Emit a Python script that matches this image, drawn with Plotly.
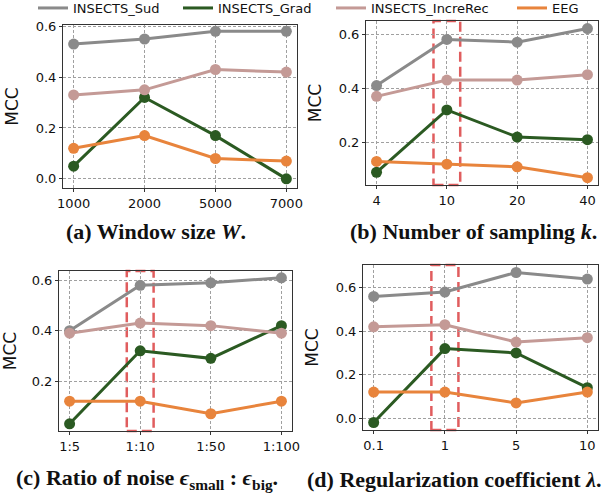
import plotly.graph_objects as go

# panel (a) window size W
w_ticks = ['1000', '2000', '5000', '7000']
w_sud = [0.53, 0.55, 0.58, 0.58]
w_grad = [0.05, 0.32, 0.17, 0.00]
w_incre = [0.33, 0.35, 0.43, 0.42]
w_eeg = [0.12, 0.17, 0.08, 0.07]

# panel (b) number of sampling k
k_ticks = ['4', '10', '20', '40']
k_sud = [0.41, 0.58, 0.57, 0.62]
k_grad = [0.09, 0.32, 0.22, 0.21]
k_incre = [0.37, 0.43, 0.43, 0.45]
k_eeg = [0.13, 0.12, 0.11, 0.07]

# panel (c) noise ratio
r_ticks = ['1:5', '1:10', '1:50', '1:100']
r_sud = [0.40, 0.58, 0.59, 0.61]
r_grad = [0.03, 0.32, 0.29, 0.42]
r_incre = [0.39, 0.43, 0.42, 0.39]
r_eeg = [0.12, 0.12, 0.07, 0.12]

# panel (d) regularization coefficient
l_ticks = ['0.1', '1', '5', '10']
l_sud = [0.56, 0.58, 0.67, 0.64]
l_grad = [-0.02, 0.32, 0.30, 0.14]
l_incre = [0.42, 0.43, 0.35, 0.37]
l_eeg = [0.12, 0.12, 0.07, 0.12]

series_names = ['INSECTS_Sud', 'INSECTS_Grad', 'INSECTS_IncreRec', 'EEG']
colors = ['#8a8a8a', '#2b5a22', '#c49a96', '#e8843c']

# which tick gets the red box in each panel (None = no box)
highlight = [None, '10', '1:10', '1']

W, H = 602, 497


def px_x(x):
    return x / W


def px_y(y):
    return 1 - y / H


panels = [
    (w_ticks, [w_sud, w_grad, w_incre, w_eeg], [-0.036, 0.605]),
    (k_ticks, [k_sud, k_grad, k_incre, k_eeg], [0.043, 0.648]),
    (r_ticks, [r_sud, r_grad, r_incre, r_eeg], [0.0015, 0.637]),
    (l_ticks, [l_sud, l_grad, l_incre, l_eeg], [-0.0545, 0.7045]),
]

# plot boxes in pixels: left, right, top, bottom
boxes = [
    (63, 297, 25, 188),
    (366, 598, 21, 185),
    (59, 292, 271, 431),
    (363, 598, 265, 430),
]

captions = [
    ('<b>(a) Window size <i>W</i>.</b>', 156, 232),
    ('<b>(b) Number of sampling <i>k</i>.</b>', 473, 232),
    ('<b>(c) Ratio of noise <i>ϵ</i><sub>small</sub> : <i>ϵ</i><sub>big</sub>.</b>', 147, 479),
    ('<b>(d) Regularization coefficient <i>λ</i>.</b>', 454, 479),
]

# left pixel of each legend line in the reference
legend_px = [40, 185, 338, 519]

fig = go.Figure()
shapes = []
for i, (ticks, ys, yrange) in enumerate(panels):
    n = '' if i == 0 else str(i + 1)
    for j, y in enumerate(ys):
        fig.add_trace(go.Scatter(
            x=ticks, y=y, mode='lines+markers',
            name=series_names[j],
            line=dict(color=colors[j], width=3),
            marker=dict(color=colors[j], size=11),
            showlegend=False,
            xaxis='x' + n, yaxis='y' + n,
        ))
    l, r, t, b = boxes[i]
    axis_common = dict(
        showgrid=True, gridcolor='#a0a0a0', griddash='3px,2px', gridwidth=0.8,
        showline=True, linecolor='#333333', linewidth=1, mirror=True,
        ticks='outside', ticklen=3, tickcolor='#333333',
        tickfont=dict(family='DejaVu Sans', size=13, color='#111111'),
        zeroline=False, automargin=False,
    )
    fig.update_layout({
        'xaxis' + n: dict(domain=[px_x(l), px_x(r)], anchor='y' + n, type='category',
                          range=[-0.15, 3.15], **axis_common),
        'yaxis' + n: dict(domain=[px_y(b), px_y(t)], anchor='x' + n, range=yrange,
                          tickvals=[0.0, 0.2, 0.4, 0.6], tickformat='.1f',
                          title=dict(text='MCC', standoff=12,
                                     font=dict(family='DejaVu Sans', size=17, color='#111111')),
                          **axis_common),
    })
    if highlight[i] is not None:
        c = ticks.index(highlight[i])
        shapes.append(dict(
            type='rect', xref='x' + n, yref='y' + n + ' domain',
            x0=c - 0.19, x1=c + 0.19, y0=0, y1=1, layer='below',
            line=dict(color='rgba(214,39,40,0.75)', width=2.5, dash='10px,5px'),
        ))

# legend entries: line only, one legend each (legend2..legend5) so the spacing follows the reference
legends = {}
for j, name in enumerate(series_names):
    key = 'legend' + str(j + 2)
    fig.add_trace(go.Scatter(
        x=[None], y=[None], mode='lines', name=name,
        line=dict(color=colors[j], width=3), legend=key,
    ))
    legends[key] = dict(
        x=px_x(legend_px[j] - 7), y=px_y(-7), xanchor='left', yanchor='top',
        orientation='h', itemwidth=30, bgcolor='rgba(0,0,0,0)',
        font=dict(family='DejaVu Sans', size=13, color='#111111'),
    )

annotations = [
    dict(text=txt, x=px_x(x), y=px_y(y), xref='paper', yref='paper', showarrow=False,
         xanchor='center', yanchor='middle',
         font=dict(family='Liberation Serif', size=22, color='#111111'))
    for txt, x, y in captions
]

fig.update_layout(
    width=W, height=H,
    margin=dict(l=0, r=0, t=0, b=0, autoexpand=False),
    paper_bgcolor='white', plot_bgcolor='white',
    shapes=shapes, annotations=annotations,
    **legends,
)

fig.write_html('out.html', config={'displayModeBar': False},
               post_script="document.body.style.margin='0';")
